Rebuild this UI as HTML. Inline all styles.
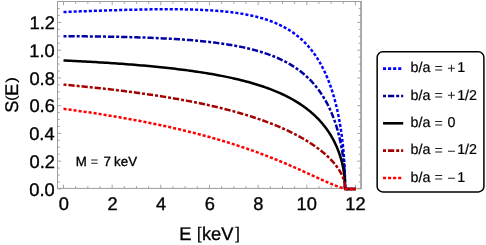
<!DOCTYPE html>
<html><head><meta charset="utf-8"><style>html,body{margin:0;padding:0;background:#fff;}body{width:486px;height:245px;position:relative;overflow:hidden;font-family:"Liberation Sans",sans-serif;}</style></head><body>
<svg width="486" height="245" viewBox="0 0 486 245" style="position:absolute;left:0;top:0;text-rendering:geometricPrecision;will-change:transform">
<defs><clipPath id="c"><rect x="57.5" y="1.5" width="303.5" height="189.4"/></clipPath></defs>
<rect x="57.5" y="1.5" width="303.5" height="186.9" fill="none" stroke="#9c9c9c" stroke-width="1"/>
<path d="M361.1 1 V188.9" stroke="#989898" stroke-width="1.3" fill="none"/>
<path d="M63.50 188.40 v-3.70 M63.50 1.50 v3.70 M75.66 188.40 v-2.30 M75.66 1.50 v2.30 M87.83 188.40 v-2.30 M87.83 1.50 v2.30 M100.00 188.40 v-2.30 M100.00 1.50 v2.30 M112.16 188.40 v-3.70 M112.16 1.50 v3.70 M124.32 188.40 v-2.30 M124.32 1.50 v2.30 M136.49 188.40 v-2.30 M136.49 1.50 v2.30 M148.66 188.40 v-2.30 M148.66 1.50 v2.30 M160.82 188.40 v-3.70 M160.82 1.50 v3.70 M172.98 188.40 v-2.30 M172.98 1.50 v2.30 M185.15 188.40 v-2.30 M185.15 1.50 v2.30 M197.31 188.40 v-2.30 M197.31 1.50 v2.30 M209.48 188.40 v-3.70 M209.48 1.50 v3.70 M221.64 188.40 v-2.30 M221.64 1.50 v2.30 M233.81 188.40 v-2.30 M233.81 1.50 v2.30 M245.97 188.40 v-2.30 M245.97 1.50 v2.30 M258.14 188.40 v-3.70 M258.14 1.50 v3.70 M270.30 188.40 v-2.30 M270.30 1.50 v2.30 M282.47 188.40 v-2.30 M282.47 1.50 v2.30 M294.63 188.40 v-2.30 M294.63 1.50 v2.30 M306.80 188.40 v-3.70 M306.80 1.50 v3.70 M318.96 188.40 v-2.30 M318.96 1.50 v2.30 M331.13 188.40 v-2.30 M331.13 1.50 v2.30 M343.29 188.40 v-2.30 M343.29 1.50 v2.30 M355.46 188.40 v-3.70 M355.46 1.50 v3.70 M57.50 188.90 h3.70 M361.00 188.90 h-3.70 M57.50 181.97 h2.30 M361.00 181.97 h-2.30 M57.50 175.03 h2.30 M361.00 175.03 h-2.30 M57.50 168.09 h2.30 M361.00 168.09 h-2.30 M57.50 161.16 h3.70 M361.00 161.16 h-3.70 M57.50 154.23 h2.30 M361.00 154.23 h-2.30 M57.50 147.29 h2.30 M361.00 147.29 h-2.30 M57.50 140.36 h2.30 M361.00 140.36 h-2.30 M57.50 133.42 h3.70 M361.00 133.42 h-3.70 M57.50 126.49 h2.30 M361.00 126.49 h-2.30 M57.50 119.55 h2.30 M361.00 119.55 h-2.30 M57.50 112.62 h2.30 M361.00 112.62 h-2.30 M57.50 105.68 h3.70 M361.00 105.68 h-3.70 M57.50 98.75 h2.30 M361.00 98.75 h-2.30 M57.50 91.81 h2.30 M361.00 91.81 h-2.30 M57.50 84.88 h2.30 M361.00 84.88 h-2.30 M57.50 77.94 h3.70 M361.00 77.94 h-3.70 M57.50 71.01 h2.30 M361.00 71.01 h-2.30 M57.50 64.07 h2.30 M361.00 64.07 h-2.30 M57.50 57.14 h2.30 M361.00 57.14 h-2.30 M57.50 50.20 h3.70 M361.00 50.20 h-3.70 M57.50 43.27 h2.30 M361.00 43.27 h-2.30 M57.50 36.33 h2.30 M361.00 36.33 h-2.30 M57.50 29.40 h2.30 M361.00 29.40 h-2.30 M57.50 22.46 h3.70 M361.00 22.46 h-3.70 M57.50 15.53 h2.30 M361.00 15.53 h-2.30 M57.50 8.59 h2.30 M361.00 8.59 h-2.30" stroke="#9a9a9a" stroke-width="0.9" fill="none"/>
<g clip-path="url(#c)" fill="none">
<path d="M63.50 12.01 L65.93 11.92 L68.37 11.82 L70.80 11.73 L73.23 11.64 L75.66 11.55 L78.10 11.46 L80.53 11.37 L82.96 11.28 L85.40 11.19 L87.83 11.10 L90.26 11.02 L92.70 10.93 L95.13 10.85 L97.56 10.76 L100.00 10.68 L102.43 10.60 L104.86 10.52 L107.29 10.44 L109.73 10.36 L112.16 10.29 L114.59 10.21 L117.03 10.14 L119.46 10.07 L121.89 10.00 L124.32 9.93 L126.76 9.87 L129.19 9.81 L131.62 9.75 L134.06 9.69 L136.49 9.64 L138.92 9.58 L141.36 9.54 L143.79 9.49 L146.22 9.45 L148.66 9.41 L151.09 9.37 L153.52 9.34 L155.95 9.31 L158.39 9.29 L160.82 9.27 L163.25 9.25 L165.69 9.24 L168.12 9.24 L170.55 9.24 L172.98 9.25 L175.42 9.26 L177.85 9.28 L180.28 9.30 L182.72 9.34 L185.15 9.38 L187.58 9.42 L190.02 9.48 L192.45 9.54 L194.88 9.62 L197.31 9.70 L199.75 9.79 L202.18 9.90 L204.61 10.01 L207.05 10.14 L209.48 10.28 L211.91 10.43 L214.35 10.60 L216.78 10.78 L219.21 10.98 L221.64 11.19 L224.08 11.42 L226.51 11.67 L228.94 11.94 L231.38 12.23 L233.81 12.54 L236.24 12.87 L238.68 13.23 L241.11 13.61 L243.54 14.03 L245.97 14.47 L248.41 14.94 L250.84 15.44 L253.27 15.98 L255.71 16.56 L258.14 17.18 L260.57 17.84 L263.01 18.55 L265.44 19.30 L267.87 20.11 L270.30 20.97 L272.74 21.89 L275.17 22.88 L277.60 23.94 L280.04 25.07 L282.47 26.28 L284.90 27.57 L287.34 28.97 L289.77 30.46 L292.20 32.06 L294.63 33.79 L297.07 35.64 L299.50 37.64 L301.93 39.79 L304.37 42.12 L306.80 44.65 L307.29 45.18 L307.52 45.44 L307.76 45.70 L308.00 45.97 L308.24 46.24 L308.48 46.51 L308.71 46.78 L308.95 47.05 L309.19 47.33 L309.43 47.61 L309.67 47.89 L309.90 48.18 L310.14 48.46 L310.38 48.75 L310.62 49.04 L310.86 49.34 L311.09 49.63 L311.33 49.93 L311.57 50.23 L311.81 50.53 L312.05 50.84 L312.28 51.15 L312.52 51.46 L312.76 51.78 L313.00 52.09 L313.24 52.41 L313.47 52.73 L313.71 53.06 L313.95 53.39 L314.19 53.72 L314.42 54.05 L314.66 54.39 L314.90 54.73 L315.14 55.07 L315.38 55.41 L315.61 55.76 L315.85 56.11 L316.09 56.47 L316.33 56.83 L316.57 57.19 L316.80 57.55 L317.04 57.92 L317.28 58.29 L317.52 58.67 L317.76 59.04 L317.99 59.43 L318.23 59.81 L318.47 60.20 L318.71 60.59 L318.95 60.99 L319.18 61.39 L319.42 61.79 L319.66 62.20 L319.90 62.61 L320.14 63.03 L320.37 63.45 L320.61 63.87 L320.85 64.30 L321.09 64.73 L321.33 65.16 L321.56 65.61 L321.80 66.05 L322.04 66.50 L322.28 66.95 L322.52 67.41 L322.75 67.88 L322.99 68.34 L323.23 68.82 L323.47 69.29 L323.70 69.78 L323.94 70.27 L324.18 70.76 L324.42 71.26 L324.66 71.76 L324.89 72.27 L325.13 72.78 L325.37 73.30 L325.61 73.83 L325.85 74.36 L326.08 74.90 L326.32 75.44 L326.56 75.99 L326.80 76.55 L327.04 77.11 L327.27 77.68 L327.51 78.26 L327.75 78.84 L327.99 79.43 L328.23 80.03 L328.46 80.63 L328.70 81.24 L328.94 81.86 L329.18 82.49 L329.42 83.12 L329.65 83.76 L329.89 84.42 L330.13 85.07 L330.37 85.74 L330.61 86.42 L330.84 87.10 L331.08 87.80 L331.32 88.50 L331.56 89.22 L331.79 89.94 L332.03 90.67 L332.27 91.42 L332.51 92.17 L332.75 92.94 L332.98 93.71 L333.22 94.50 L333.46 95.30 L333.70 96.12 L333.94 96.94 L334.17 97.78 L334.41 98.63 L334.65 99.50 L334.89 100.38 L335.13 101.27 L335.36 102.18 L335.60 103.11 L335.84 104.05 L336.08 105.01 L336.32 105.99 L336.55 106.98 L336.79 108.00 L337.03 109.03 L337.27 110.09 L337.51 111.16 L337.74 112.26 L337.98 113.39 L338.22 114.53 L338.46 115.71 L338.70 116.91 L338.93 118.14 L339.17 119.40 L339.41 120.69 L339.65 122.01 L339.88 123.37 L340.12 124.77 L340.36 126.21 L340.60 127.70 L340.84 129.23 L341.07 130.82 L341.31 132.46 L341.55 134.16 L341.79 135.92 L342.03 137.76 L342.26 139.69 L342.50 141.70 L342.74 143.82 L342.98 146.06 L343.22 148.44 L343.45 150.99 L343.69 153.74 L343.93 156.75 L344.17 160.10 L344.41 163.91 L344.64 168.46 L344.88 174.42 L345.12 188.90 L355.90 188.90" stroke="#0000ff" stroke-width="2.5" stroke-dasharray="3.1 1.96"/>
<path d="M63.50 36.22 L65.93 36.23 L68.37 36.24 L70.80 36.25 L73.23 36.27 L75.66 36.29 L78.10 36.30 L80.53 36.32 L82.96 36.34 L85.40 36.37 L87.83 36.39 L90.26 36.42 L92.70 36.44 L95.13 36.47 L97.56 36.50 L100.00 36.54 L102.43 36.57 L104.86 36.61 L107.29 36.65 L109.73 36.69 L112.16 36.73 L114.59 36.78 L117.03 36.83 L119.46 36.88 L121.89 36.93 L124.32 36.99 L126.76 37.05 L129.19 37.11 L131.62 37.18 L134.06 37.24 L136.49 37.32 L138.92 37.39 L141.36 37.47 L143.79 37.56 L146.22 37.64 L148.66 37.73 L151.09 37.83 L153.52 37.93 L155.95 38.03 L158.39 38.14 L160.82 38.26 L163.25 38.38 L165.69 38.50 L168.12 38.63 L170.55 38.77 L172.98 38.91 L175.42 39.06 L177.85 39.21 L180.28 39.37 L182.72 39.54 L185.15 39.72 L187.58 39.90 L190.02 40.10 L192.45 40.30 L194.88 40.51 L197.31 40.73 L199.75 40.96 L202.18 41.19 L204.61 41.44 L207.05 41.71 L209.48 41.98 L211.91 42.26 L214.35 42.56 L216.78 42.87 L219.21 43.20 L221.64 43.54 L224.08 43.89 L226.51 44.26 L228.94 44.65 L231.38 45.06 L233.81 45.49 L236.24 45.93 L238.68 46.40 L241.11 46.89 L243.54 47.40 L245.97 47.94 L248.41 48.51 L250.84 49.10 L253.27 49.72 L255.71 50.37 L258.14 51.06 L260.57 51.78 L263.01 52.54 L265.44 53.33 L267.87 54.17 L270.30 55.06 L272.74 55.99 L275.17 56.97 L277.60 58.01 L280.04 59.11 L282.47 60.27 L284.90 61.50 L287.34 62.80 L289.77 64.18 L292.20 65.65 L294.63 67.21 L297.07 68.87 L299.50 70.64 L301.93 72.53 L304.37 74.55 L306.80 76.72 L307.29 77.17 L307.52 77.39 L307.76 77.62 L308.00 77.84 L308.24 78.07 L308.48 78.30 L308.71 78.53 L308.95 78.77 L309.19 79.00 L309.43 79.24 L309.67 79.48 L309.90 79.72 L310.14 79.96 L310.38 80.20 L310.62 80.45 L310.86 80.70 L311.09 80.95 L311.33 81.20 L311.57 81.45 L311.81 81.71 L312.05 81.96 L312.28 82.22 L312.52 82.48 L312.76 82.74 L313.00 83.01 L313.24 83.28 L313.47 83.54 L313.71 83.82 L313.95 84.09 L314.19 84.36 L314.42 84.64 L314.66 84.92 L314.90 85.20 L315.14 85.49 L315.38 85.77 L315.61 86.06 L315.85 86.35 L316.09 86.65 L316.33 86.94 L316.57 87.24 L316.80 87.54 L317.04 87.84 L317.28 88.15 L317.52 88.46 L317.76 88.77 L317.99 89.08 L318.23 89.40 L318.47 89.72 L318.71 90.04 L318.95 90.36 L319.18 90.69 L319.42 91.02 L319.66 91.35 L319.90 91.69 L320.14 92.02 L320.37 92.37 L320.61 92.71 L320.85 93.06 L321.09 93.41 L321.33 93.76 L321.56 94.12 L321.80 94.48 L322.04 94.84 L322.28 95.21 L322.52 95.58 L322.75 95.96 L322.99 96.33 L323.23 96.72 L323.47 97.10 L323.70 97.49 L323.94 97.88 L324.18 98.28 L324.42 98.68 L324.66 99.08 L324.89 99.49 L325.13 99.90 L325.37 100.32 L325.61 100.74 L325.85 101.17 L326.08 101.59 L326.32 102.03 L326.56 102.47 L326.80 102.91 L327.04 103.36 L327.27 103.81 L327.51 104.27 L327.75 104.73 L327.99 105.20 L328.23 105.67 L328.46 106.15 L328.70 106.64 L328.94 107.13 L329.18 107.62 L329.42 108.12 L329.65 108.63 L329.89 109.14 L330.13 109.66 L330.37 110.19 L330.61 110.72 L330.84 111.26 L331.08 111.80 L331.32 112.36 L331.56 112.92 L331.79 113.48 L332.03 114.06 L332.27 114.64 L332.51 115.23 L332.75 115.83 L332.98 116.44 L333.22 117.05 L333.46 117.68 L333.70 118.31 L333.94 118.95 L334.17 119.61 L334.41 120.27 L334.65 120.94 L334.89 121.62 L335.13 122.32 L335.36 123.02 L335.60 123.74 L335.84 124.47 L336.08 125.21 L336.32 125.97 L336.55 126.74 L336.79 127.52 L337.03 128.32 L337.27 129.13 L337.51 129.96 L337.74 130.81 L337.98 131.67 L338.22 132.55 L338.46 133.45 L338.70 134.38 L338.93 135.32 L339.17 136.28 L339.41 137.27 L339.65 138.29 L339.88 139.33 L340.12 140.40 L340.36 141.50 L340.60 142.63 L340.84 143.80 L341.07 145.01 L341.31 146.26 L341.55 147.55 L341.79 148.89 L342.03 150.29 L342.26 151.75 L342.50 153.28 L342.74 154.89 L342.98 156.59 L343.22 158.39 L343.45 160.32 L343.69 162.40 L343.93 164.67 L344.17 167.20 L344.41 170.08 L344.64 173.51 L344.88 178.00 L345.12 188.90 L355.90 188.90" stroke="#0000a3" stroke-width="2.5" stroke-dasharray="3.0 1.95 6.27 1.95"/>
<path d="M63.50 60.43 L65.93 60.54 L68.37 60.66 L70.80 60.78 L73.23 60.90 L75.66 61.02 L78.10 61.15 L80.53 61.28 L82.96 61.41 L85.40 61.54 L87.83 61.68 L90.26 61.81 L92.70 61.95 L95.13 62.10 L97.56 62.24 L100.00 62.39 L102.43 62.54 L104.86 62.70 L107.29 62.85 L109.73 63.01 L112.16 63.18 L114.59 63.34 L117.03 63.51 L119.46 63.68 L121.89 63.86 L124.32 64.04 L126.76 64.22 L129.19 64.41 L131.62 64.60 L134.06 64.80 L136.49 65.00 L138.92 65.20 L141.36 65.41 L143.79 65.62 L146.22 65.84 L148.66 66.06 L151.09 66.29 L153.52 66.52 L155.95 66.75 L158.39 67.00 L160.82 67.24 L163.25 67.50 L165.69 67.76 L168.12 68.02 L170.55 68.29 L172.98 68.57 L175.42 68.85 L177.85 69.15 L180.28 69.44 L182.72 69.75 L185.15 70.06 L187.58 70.38 L190.02 70.71 L192.45 71.05 L194.88 71.40 L197.31 71.75 L199.75 72.12 L202.18 72.49 L204.61 72.88 L207.05 73.27 L209.48 73.68 L211.91 74.09 L214.35 74.52 L216.78 74.96 L219.21 75.42 L221.64 75.88 L224.08 76.36 L226.51 76.86 L228.94 77.37 L231.38 77.90 L233.81 78.44 L236.24 79.00 L238.68 79.57 L241.11 80.17 L243.54 80.78 L245.97 81.42 L248.41 82.07 L250.84 82.75 L253.27 83.46 L255.71 84.18 L258.14 84.94 L260.57 85.72 L263.01 86.53 L265.44 87.37 L267.87 88.24 L270.30 89.15 L272.74 90.09 L275.17 91.07 L277.60 92.09 L280.04 93.15 L282.47 94.26 L284.90 95.42 L287.34 96.64 L289.77 97.91 L292.20 99.24 L294.63 100.63 L297.07 102.09 L299.50 103.64 L301.93 105.26 L304.37 106.97 L306.80 108.79 L307.29 109.16 L307.52 109.35 L307.76 109.54 L308.00 109.72 L308.24 109.91 L308.48 110.10 L308.71 110.29 L308.95 110.48 L309.19 110.68 L309.43 110.87 L309.67 111.06 L309.90 111.26 L310.14 111.46 L310.38 111.66 L310.62 111.86 L310.86 112.06 L311.09 112.26 L311.33 112.47 L311.57 112.67 L311.81 112.88 L312.05 113.08 L312.28 113.29 L312.52 113.50 L312.76 113.71 L313.00 113.93 L313.24 114.14 L313.47 114.36 L313.71 114.57 L313.95 114.79 L314.19 115.01 L314.42 115.23 L314.66 115.46 L314.90 115.68 L315.14 115.91 L315.38 116.13 L315.61 116.36 L315.85 116.59 L316.09 116.82 L316.33 117.06 L316.57 117.29 L316.80 117.53 L317.04 117.77 L317.28 118.01 L317.52 118.25 L317.76 118.49 L317.99 118.74 L318.23 118.98 L318.47 119.23 L318.71 119.48 L318.95 119.73 L319.18 119.99 L319.42 120.24 L319.66 120.50 L319.90 120.76 L320.14 121.02 L320.37 121.29 L320.61 121.55 L320.85 121.82 L321.09 122.09 L321.33 122.36 L321.56 122.63 L321.80 122.91 L322.04 123.19 L322.28 123.47 L322.52 123.75 L322.75 124.04 L322.99 124.32 L323.23 124.61 L323.47 124.91 L323.70 125.20 L323.94 125.50 L324.18 125.80 L324.42 126.10 L324.66 126.40 L324.89 126.71 L325.13 127.02 L325.37 127.33 L325.61 127.65 L325.85 127.97 L326.08 128.29 L326.32 128.61 L326.56 128.94 L326.80 129.27 L327.04 129.60 L327.27 129.94 L327.51 130.28 L327.75 130.62 L327.99 130.97 L328.23 131.32 L328.46 131.67 L328.70 132.03 L328.94 132.39 L329.18 132.75 L329.42 133.12 L329.65 133.49 L329.89 133.87 L330.13 134.25 L330.37 134.63 L330.61 135.02 L330.84 135.41 L331.08 135.81 L331.32 136.21 L331.56 136.62 L331.79 137.03 L332.03 137.45 L332.27 137.87 L332.51 138.29 L332.75 138.72 L332.98 139.16 L333.22 139.60 L333.46 140.05 L333.70 140.50 L333.94 140.97 L334.17 141.43 L334.41 141.90 L334.65 142.38 L334.89 142.87 L335.13 143.36 L335.36 143.87 L335.60 144.37 L335.84 144.89 L336.08 145.42 L336.32 145.95 L336.55 146.49 L336.79 147.04 L337.03 147.61 L337.27 148.18 L337.51 148.76 L337.74 149.35 L337.98 149.96 L338.22 150.57 L338.46 151.20 L338.70 151.84 L338.93 152.50 L339.17 153.17 L339.41 153.86 L339.65 154.56 L339.88 155.28 L340.12 156.02 L340.36 156.78 L340.60 157.56 L340.84 158.37 L341.07 159.20 L341.31 160.05 L341.55 160.94 L341.79 161.86 L342.03 162.82 L342.26 163.82 L342.50 164.86 L342.74 165.95 L342.98 167.11 L343.22 168.33 L343.45 169.64 L343.69 171.05 L343.93 172.59 L344.17 174.30 L344.41 176.24 L344.64 178.55 L344.88 181.58 L345.12 188.90 L355.90 188.90" stroke="#000000" stroke-width="2.5"/>
<path d="M63.50 84.63 L65.93 84.85 L68.37 85.08 L70.80 85.30 L73.23 85.53 L75.66 85.76 L78.10 86.00 L80.53 86.23 L82.96 86.47 L85.40 86.72 L87.83 86.96 L90.26 87.21 L92.70 87.47 L95.13 87.72 L97.56 87.98 L100.00 88.25 L102.43 88.51 L104.86 88.78 L107.29 89.06 L109.73 89.34 L112.16 89.62 L114.59 89.91 L117.03 90.20 L119.46 90.49 L121.89 90.79 L124.32 91.09 L126.76 91.40 L129.19 91.71 L131.62 92.03 L134.06 92.35 L136.49 92.68 L138.92 93.01 L141.36 93.35 L143.79 93.69 L146.22 94.03 L148.66 94.39 L151.09 94.74 L153.52 95.11 L155.95 95.48 L158.39 95.85 L160.82 96.23 L163.25 96.62 L165.69 97.01 L168.12 97.41 L170.55 97.82 L172.98 98.23 L175.42 98.65 L177.85 99.08 L180.28 99.51 L182.72 99.96 L185.15 100.40 L187.58 100.86 L190.02 101.33 L192.45 101.80 L194.88 102.29 L197.31 102.78 L199.75 103.28 L202.18 103.79 L204.61 104.31 L207.05 104.84 L209.48 105.37 L211.91 105.92 L214.35 106.48 L216.78 107.05 L219.21 107.64 L221.64 108.23 L224.08 108.84 L226.51 109.45 L228.94 110.09 L231.38 110.73 L233.81 111.39 L236.24 112.06 L238.68 112.74 L241.11 113.45 L243.54 114.16 L245.97 114.89 L248.41 115.64 L250.84 116.41 L253.27 117.19 L255.71 117.99 L258.14 118.81 L260.57 119.66 L263.01 120.52 L265.44 121.40 L267.87 122.30 L270.30 123.23 L272.74 124.18 L275.17 125.16 L277.60 126.17 L280.04 127.20 L282.47 128.26 L284.90 129.35 L287.34 130.47 L289.77 131.63 L292.20 132.82 L294.63 134.05 L297.07 135.32 L299.50 136.63 L301.93 137.99 L304.37 139.40 L306.80 140.86 L307.29 141.16 L307.52 141.30 L307.76 141.45 L308.00 141.60 L308.24 141.75 L308.48 141.90 L308.71 142.05 L308.95 142.20 L309.19 142.35 L309.43 142.50 L309.67 142.65 L309.90 142.80 L310.14 142.96 L310.38 143.11 L310.62 143.27 L310.86 143.42 L311.09 143.58 L311.33 143.73 L311.57 143.89 L311.81 144.05 L312.05 144.21 L312.28 144.36 L312.52 144.52 L312.76 144.68 L313.00 144.84 L313.24 145.01 L313.47 145.17 L313.71 145.33 L313.95 145.49 L314.19 145.66 L314.42 145.82 L314.66 145.99 L314.90 146.16 L315.14 146.32 L315.38 146.49 L315.61 146.66 L315.85 146.83 L316.09 147.00 L316.33 147.17 L316.57 147.34 L316.80 147.52 L317.04 147.69 L317.28 147.86 L317.52 148.04 L317.76 148.21 L317.99 148.39 L318.23 148.57 L318.47 148.75 L318.71 148.93 L318.95 149.11 L319.18 149.29 L319.42 149.47 L319.66 149.65 L319.90 149.84 L320.14 150.02 L320.37 150.21 L320.61 150.39 L320.85 150.58 L321.09 150.77 L321.33 150.96 L321.56 151.15 L321.80 151.34 L322.04 151.53 L322.28 151.73 L322.52 151.92 L322.75 152.12 L322.99 152.32 L323.23 152.51 L323.47 152.71 L323.70 152.91 L323.94 153.11 L324.18 153.32 L324.42 153.52 L324.66 153.73 L324.89 153.93 L325.13 154.14 L325.37 154.35 L325.61 154.56 L325.85 154.77 L326.08 154.98 L326.32 155.20 L326.56 155.41 L326.80 155.63 L327.04 155.85 L327.27 156.07 L327.51 156.29 L327.75 156.51 L327.99 156.74 L328.23 156.97 L328.46 157.19 L328.70 157.42 L328.94 157.65 L329.18 157.89 L329.42 158.12 L329.65 158.36 L329.89 158.60 L330.13 158.84 L330.37 159.08 L330.61 159.32 L330.84 159.57 L331.08 159.82 L331.32 160.07 L331.56 160.32 L331.79 160.57 L332.03 160.83 L332.27 161.09 L332.51 161.35 L332.75 161.62 L332.98 161.88 L333.22 162.15 L333.46 162.42 L333.70 162.70 L333.94 162.98 L334.17 163.26 L334.41 163.54 L334.65 163.83 L334.89 164.12 L335.13 164.41 L335.36 164.71 L335.60 165.01 L335.84 165.31 L336.08 165.62 L336.32 165.93 L336.55 166.25 L336.79 166.57 L337.03 166.89 L337.27 167.22 L337.51 167.56 L337.74 167.90 L337.98 168.24 L338.22 168.59 L338.46 168.95 L338.70 169.31 L338.93 169.68 L339.17 170.06 L339.41 170.44 L339.65 170.83 L339.88 171.23 L340.12 171.64 L340.36 172.06 L340.60 172.49 L340.84 172.93 L341.07 173.39 L341.31 173.85 L341.55 174.33 L341.79 174.83 L342.03 175.35 L342.26 175.88 L342.50 176.44 L342.74 177.02 L342.98 177.63 L343.22 178.28 L343.45 178.97 L343.69 179.71 L343.93 180.51 L344.17 181.40 L344.41 182.40 L344.64 183.60 L344.88 185.15 L345.12 188.90 L355.90 188.90" stroke="#a30000" stroke-width="2.5" stroke-dasharray="3.0 1.95 6.27 1.95"/>
<path d="M63.50 108.84 L65.93 109.17 L68.37 109.49 L70.80 109.82 L73.23 110.16 L75.66 110.50 L78.10 110.84 L80.53 111.19 L82.96 111.54 L85.40 111.89 L87.83 112.25 L90.26 112.61 L92.70 112.98 L95.13 113.35 L97.56 113.72 L100.00 114.10 L102.43 114.49 L104.86 114.87 L107.29 115.27 L109.73 115.66 L112.16 116.07 L114.59 116.47 L117.03 116.88 L119.46 117.30 L121.89 117.72 L124.32 118.15 L126.76 118.58 L129.19 119.02 L131.62 119.46 L134.06 119.91 L136.49 120.36 L138.92 120.82 L141.36 121.28 L143.79 121.75 L146.22 122.23 L148.66 122.71 L151.09 123.20 L153.52 123.70 L155.95 124.20 L158.39 124.70 L160.82 125.22 L163.25 125.74 L165.69 126.27 L168.12 126.80 L170.55 127.34 L172.98 127.89 L175.42 128.45 L177.85 129.01 L180.28 129.58 L182.72 130.16 L185.15 130.75 L187.58 131.34 L190.02 131.94 L192.45 132.56 L194.88 133.17 L197.31 133.80 L199.75 134.44 L202.18 135.08 L204.61 135.74 L207.05 136.40 L209.48 137.07 L211.91 137.75 L214.35 138.45 L216.78 139.15 L219.21 139.86 L221.64 140.58 L224.08 141.31 L226.51 142.05 L228.94 142.80 L231.38 143.56 L233.81 144.34 L236.24 145.12 L238.68 145.92 L241.11 146.72 L243.54 147.54 L245.97 148.37 L248.41 149.21 L250.84 150.06 L253.27 150.93 L255.71 151.80 L258.14 152.69 L260.57 153.59 L263.01 154.51 L265.44 155.43 L267.87 156.37 L270.30 157.32 L272.74 158.28 L275.17 159.26 L277.60 160.24 L280.04 161.24 L282.47 162.25 L284.90 163.27 L287.34 164.31 L289.77 165.35 L292.20 166.41 L294.63 167.47 L297.07 168.55 L299.50 169.63 L301.93 170.73 L304.37 171.83 L306.80 172.93 L307.29 173.15 L307.52 173.26 L307.76 173.37 L308.00 173.48 L308.24 173.59 L308.48 173.69 L308.71 173.80 L308.95 173.91 L309.19 174.02 L309.43 174.13 L309.67 174.24 L309.90 174.35 L310.14 174.46 L310.38 174.56 L310.62 174.67 L310.86 174.78 L311.09 174.89 L311.33 175.00 L311.57 175.11 L311.81 175.22 L312.05 175.33 L312.28 175.44 L312.52 175.54 L312.76 175.65 L313.00 175.76 L313.24 175.87 L313.47 175.98 L313.71 176.09 L313.95 176.20 L314.19 176.31 L314.42 176.42 L314.66 176.52 L314.90 176.63 L315.14 176.74 L315.38 176.85 L315.61 176.96 L315.85 177.07 L316.09 177.18 L316.33 177.29 L316.57 177.39 L316.80 177.50 L317.04 177.61 L317.28 177.72 L317.52 177.83 L317.76 177.94 L317.99 178.05 L318.23 178.15 L318.47 178.26 L318.71 178.37 L318.95 178.48 L319.18 178.59 L319.42 178.70 L319.66 178.80 L319.90 178.91 L320.14 179.02 L320.37 179.13 L320.61 179.23 L320.85 179.34 L321.09 179.45 L321.33 179.56 L321.56 179.66 L321.80 179.77 L322.04 179.88 L322.28 179.99 L322.52 180.09 L322.75 180.20 L322.99 180.31 L323.23 180.41 L323.47 180.52 L323.70 180.63 L323.94 180.73 L324.18 180.84 L324.42 180.94 L324.66 181.05 L324.89 181.15 L325.13 181.26 L325.37 181.36 L325.61 181.47 L325.85 181.57 L326.08 181.68 L326.32 181.78 L326.56 181.89 L326.80 181.99 L327.04 182.10 L327.27 182.20 L327.51 182.30 L327.75 182.41 L327.99 182.51 L328.23 182.61 L328.46 182.71 L328.70 182.82 L328.94 182.92 L329.18 183.02 L329.42 183.12 L329.65 183.22 L329.89 183.32 L330.13 183.42 L330.37 183.52 L330.61 183.62 L330.84 183.72 L331.08 183.82 L331.32 183.92 L331.56 184.02 L331.79 184.12 L332.03 184.22 L332.27 184.32 L332.51 184.41 L332.75 184.51 L332.98 184.61 L333.22 184.70 L333.46 184.80 L333.70 184.89 L333.94 184.99 L334.17 185.08 L334.41 185.18 L334.65 185.27 L334.89 185.36 L335.13 185.46 L335.36 185.55 L335.60 185.64 L335.84 185.73 L336.08 185.82 L336.32 185.91 L336.55 186.00 L336.79 186.09 L337.03 186.18 L337.27 186.27 L337.51 186.35 L337.74 186.44 L337.98 186.53 L338.22 186.61 L338.46 186.70 L338.70 186.78 L338.93 186.86 L339.17 186.95 L339.41 187.03 L339.65 187.11 L339.88 187.19 L340.12 187.27 L340.36 187.35 L340.60 187.42 L340.84 187.50 L341.07 187.58 L341.31 187.65 L341.55 187.73 L341.79 187.80 L342.03 187.87 L342.26 187.95 L342.50 188.02 L342.74 188.09 L342.98 188.16 L343.22 188.23 L343.45 188.29 L343.69 188.36 L343.93 188.43 L344.17 188.50 L344.41 188.57 L344.64 188.64 L344.88 188.73 L345.12 188.90 L355.90 188.90" stroke="#ff0000" stroke-width="2.5" stroke-dasharray="3.1 1.96"/>
</g>
<g font-family="Liberation Sans, sans-serif" fill="#000" stroke="#000" stroke-width="0.35" stroke-linejoin="round">
<text x="58.70" y="210.10" font-size="18.3">0</text>
<text x="107.38" y="210.10" font-size="18.3">2</text>
<text x="156.09" y="210.10" font-size="18.3">4</text>
<text x="204.63" y="210.10" font-size="18.3">6</text>
<text x="253.36" y="210.10" font-size="18.3">8</text>
<text x="296.60" y="210.10" font-size="18.3">10</text>
<text x="345.37" y="210.10" font-size="18.3">12</text>
<text x="29.35" y="195.60" font-size="18.3">0.0</text>
<text x="29.58" y="167.86" font-size="18.3">0.2</text>
<text x="29.17" y="140.12" font-size="18.3">0.4</text>
<text x="29.44" y="112.38" font-size="18.3">0.6</text>
<text x="29.44" y="84.64" font-size="18.3">0.8</text>
<text x="29.35" y="56.90" font-size="18.3">1.0</text>
<text x="29.58" y="29.16" font-size="18.3">1.2</text>
<text x="179.19" y="239.60" font-size="18.3">E</text>
<g transform="translate(0,239.0) scale(1,0.93)"><text x="196.67" y="0.00" font-size="18.3" stroke="none">[</text></g>
<text x="201.96" y="239.60" font-size="18.3">keV</text>
<g transform="translate(0,239.0) scale(1,0.93)"><text x="235.06" y="0.00" font-size="18.3" stroke="none">]</text></g>
<g transform="translate(17.8,111.9) rotate(-90)" font-size="18.3"><text x="-0.8" y="0">S</text><text x="0" y="0" transform="translate(10.6,-1.6) scale(1,0.794)" stroke="none">(</text><text x="16.0" y="0">E</text><text x="0" y="0" transform="translate(28.9,-1.6) scale(1,0.794)" stroke="none">)</text></g>
<text x="75.80" y="165.50" font-size="13.3">M</text>
<text x="90.53" y="165.50" font-size="13.3" stroke="none" fill="#222">=</text>
<text x="103.50" y="165.50" font-size="13.3">7</text>
<text x="114.10" y="165.50" font-size="13.3">keV</text>
</g>
<rect x="377.15" y="51.8" width="106.75" height="140.1" rx="5.5" ry="5.5" fill="#fff" stroke="#000" stroke-width="1.5"/>
<g font-family="Liberation Sans, sans-serif" fill="#000" stroke="#000" stroke-width="0.2" stroke-linejoin="round">
<path d="M383.0 68.65 H403.2" stroke="#0000ff" stroke-width="2.6" fill="none" stroke-dasharray="3.1 1.96"/>
<text x="410.47" y="72.30" font-size="14.3">b/a</text>
<text x="434.39" y="73.10" font-size="14.3" stroke="none" fill="#222">=</text>
<text x="447.34" y="73.10" font-size="14.3" stroke="none" fill="#222">+</text>
<text x="457.13" y="72.30" font-size="14.3">1</text>
<path d="M383.0 95.98 H403.2" stroke="#0000a3" stroke-width="2.6" fill="none" stroke-dasharray="3.0 1.95 6.27 1.95"/>
<text x="410.47" y="99.63" font-size="14.3">b/a</text>
<text x="434.39" y="100.43" font-size="14.3" stroke="none" fill="#222">=</text>
<text x="447.34" y="100.43" font-size="14.3" stroke="none" fill="#222">+</text>
<text x="457.13" y="99.63" font-size="14.3">1/2</text>
<path d="M383.0 123.31 H403.2" stroke="#000000" stroke-width="2.6" fill="none"/>
<text x="410.47" y="126.96" font-size="14.3">b/a</text>
<text x="434.39" y="127.76" font-size="14.3" stroke="none" fill="#222">=</text>
<text x="447.48" y="126.96" font-size="14.3">0</text>
<path d="M383.0 150.64 H403.2" stroke="#a30000" stroke-width="2.6" fill="none" stroke-dasharray="3.0 1.95 6.27 1.95"/>
<text x="410.47" y="154.29" font-size="14.3">b/a</text>
<text x="434.39" y="155.09" font-size="14.3" stroke="none" fill="#222">=</text>
<text x="447.34" y="155.59" font-size="14.3" stroke="none" fill="#222">−</text>
<text x="457.13" y="154.29" font-size="14.3">1/2</text>
<path d="M383.0 177.97 H403.2" stroke="#ff0000" stroke-width="2.6" fill="none" stroke-dasharray="3.1 1.96"/>
<text x="410.47" y="181.62" font-size="14.3">b/a</text>
<text x="434.39" y="182.42" font-size="14.3" stroke="none" fill="#222">=</text>
<text x="447.34" y="182.92" font-size="14.3" stroke="none" fill="#222">−</text>
<text x="457.13" y="181.62" font-size="14.3">1</text>
</g>
</svg>
</body></html>
